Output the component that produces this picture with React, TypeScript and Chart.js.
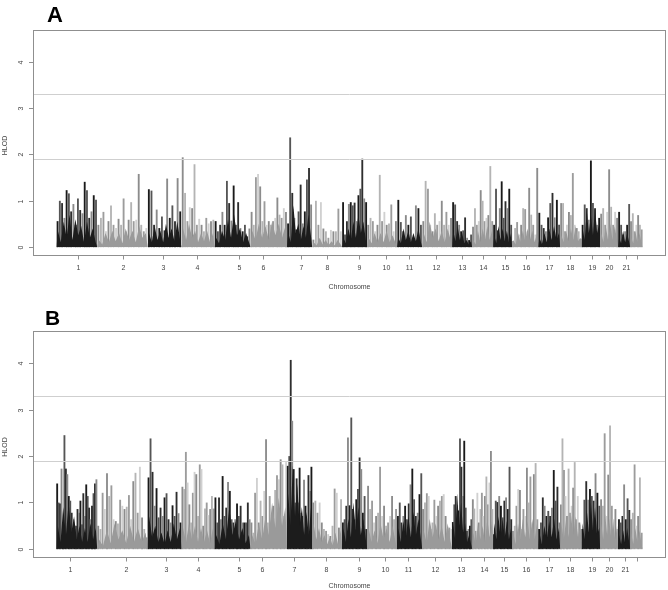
import React, { useEffect, useRef } from 'react';
import { Chart, registerables } from 'chart.js';

Chart.register(...registerables);

// ---------------- data ----------------
const chromosomes = ['1','2','3','4','5','6','7','8','9','10','11','12','13','14','15','16','17','18','19','20','21','22'];
// chromosome lengths (cM) on the genome-wide axis
const chromLengths = [243, 301, 203, 197, 215, 218, 150, 179, 149, 179, 150, 179, 119, 126, 113, 156, 131, 128, 111, 107, 72, 74];
// tick label positions (cM) for each panel
const tickPosA = [131, 400, 639, 842, 1092, 1232, 1459, 1618, 1809, 1965, 2108, 2266, 2421, 2550, 2679, 2801, 2944, 3068, 3199, 3299, 3402, 3468];
const tickPosB = [83, 414, 655, 848, 1092, 1226, 1419, 1610, 1809, 1961, 2102, 2263, 2418, 2554, 2674, 2803, 2944, 3064, 3199, 3299, 3398, 3466];
// R drops the overlapping last label (chromosome 22)
const xTickLabels = ['1','2','3','4','5','6','7','8','9','10','11','12','13','14','15','16','17','18','19','20','21',''];
const yTicks = [0, 1, 2, 3, 4];
const thresholds = [1.9, 3.3];

// Panel A: HLOD peaks per chromosome (in map order)
const spikesA = [
  [0.55,0.99,0.94,0.62,1.22,1.15,0.76,0.92,0.47,1.04,0.79,0.72,1.40,1.22,0.62,0.76,1.11,1.01],
  [0.47,0.62,0.75,0.33,0.55,0.89,0.47,0.40,0.60,0.47,1.04,0.33,0.58,0.96,0.55,0.58,1.57,0.47,0.33,0.40],
  [1.24,1.21,0.47,0.80,0.40,0.65,0.35,1.47,0.62,0.89,0.55,1.48,0.76],
  [1.93,1.16,0.55,0.85,0.83,1.78,0.47,0.60,0.47,0.33,0.62,0.50,0.55,0.58],
  [0.55,0.33,0.47,0.75,0.47,1.42,0.94,0.56,1.32,0.47,0.96,0.40,0.33,0.47,0.22,0.39],
  [0.75,0.47,1.50,1.57,1.30,0.55,0.98,0.47,0.55,0.47,0.55,0.62,1.06,0.69,0.62,0.83,0.75],
  [0.50,2.36,1.16,0.62,0.37,0.76,1.34,0.50,0.76,1.45,1.70,0.91],
  [0.15,0.99,0.47,0.96,0.39,0.33,0.19,0.36,0.33,0.33,0.82,0.33],
  [0.96,0.26,0.55,0.92,0.96,0.89,0.95,0.55,1.11,1.25,1.90,1.04,0.96],
  [0.47,0.62,0.55,0.33,0.47,1.55,0.55,0.75,0.47,0.50,0.91,0.33,0.55],
  [1.01,0.53,0.33,0.68,0.47,0.65,0.19,0.89,0.83,0.47],
  [0.55,1.42,1.25,0.47,0.33,0.72,0.47,0.55,0.99,0.47,0.75,0.47,0.62],
  [0.96,0.91,0.55,0.47,0.33,0.35,0.63,0.19,0.14,0.26],
  [0.43,0.83,0.47,0.55,1.22,0.99,0.55,0.62,0.68,1.74,0.55],
  [0.47,1.25,0.35,0.83,1.41,0.62,0.98,0.83,1.25,0.47],
  [0.12,0.40,0.53,0.26,0.47,0.83,0.81,0.33,1.27,0.69,0.47,0.26,1.70],
  [0.73,0.47,0.40,0.33,0.63,0.94,1.16,0.63,1.01,0.47],
  [0.94,0.94,0.33,0.47,0.75,0.68,1.59,0.47,0.40,0.33,0.17],
  [0.47,0.91,0.83,0.58,1.86,0.94,0.83,0.47,0.62],
  [0.71,0.83,0.47,0.75,1.67,0.86,0.47,0.75,0.62],
  [0.75,0.47,0.26,0.33,0.47,0.92],
  [0.55,0.72,0.33,0.47,0.68,0.47,0.37],
];
// Panel A: dense low-level HLOD mass per chromosome
const baseA = [
  [0.35,0.10,0.55,0.20,0.70,0.15,0.60,0.25,0.45,0.10,0.55,0.20,0.40,0.10],
  [0.15,0.05,0.30,0.10,0.35,0.12,0.30,0.08,0.40,0.15,0.35,0.10,0.45,0.20,0.30],
  [0.30,0.10,0.45,0.15,0.35,0.10,0.50,0.20,0.40,0.12,0.55,0.15],
  [0.40,0.15,0.50,0.20,0.35,0.10,0.30,0.12,0.35,0.10,0.30],
  [0.20,0.08,0.35,0.15,0.60,0.20,0.70,0.25,0.40,0.10,0.30,0.10],
  [0.35,0.15,0.50,0.20,0.45,0.15,0.55,0.25,0.50,0.20,0.45],
  [0.30,0.10,0.90,0.30,0.50,0.15,0.45,0.20,0.70,0.25],
  [0.10,0.03,0.20,0.05,0.15,0.04,0.12,0.03,0.15,0.05],
  [0.20,0.08,0.40,0.15,0.55,0.20,0.70,0.30,0.55,0.15],
  [0.20,0.08,0.30,0.10,0.30,0.10,0.35,0.10,0.25,0.08],
  [0.20,0.08,0.40,0.15,0.35,0.10,0.30,0.12,0.40,0.10],
  [0.30,0.10,0.55,0.20,0.40,0.12,0.35,0.10,0.40,0.15],
  [0.35,0.12,0.45,0.15,0.30,0.08,0.15,0.05,0.12],
  [0.15,0.05,0.35,0.10,0.40,0.15,0.45,0.15,0.35],
  [0.25,0.08,0.45,0.15,0.40,0.12,0.35,0.10,0.30],
  [0.15,0.05,0.30,0.10,0.35,0.12,0.40,0.15,0.35,0.10,0.30],
  [0.20,0.06,0.30,0.10,0.40,0.15,0.45,0.15,0.30],
  [0.25,0.10,0.35,0.12,0.40,0.15,0.45,0.12,0.20],
  [0.40,0.15,0.80,0.30,0.70,0.25,0.85,0.30,0.50],
  [0.30,0.10,0.45,0.15,0.50,0.15,0.45,0.15],
  [0.20,0.08,0.35,0.10,0.30,0.10],
  [0.20,0.08,0.35,0.10,0.30,0.08],
];

// Panel B: HLOD peaks per chromosome
const spikesB = [
  [1.40,0.99,0.97,1.72,0.42,2.44,1.72,1.60,1.13,1.03,0.77,0.63,0.42,0.49,0.85,0.77,1.03,0.52,1.19,0.70,1.38,1.13,0.88,0.63,0.92,1.19,1.40,1.49],
  [0.49,0.42,1.20,0.85,1.62,1.13,1.36,0.63,0.59,0.54,1.05,0.92,0.85,0.90,1.15,0.63,1.45,1.63,0.77,1.76,0.67,0.42,0.24],
  [1.53,2.37,1.65,0.92,1.30,0.67,0.88,0.70,1.10,1.19,0.63,0.56,0.93,0.70,1.22,0.76,0.56],
  [1.33,1.28,2.08,1.42,0.95,0.56,1.20,1.65,1.60,0.70,1.81,1.71,0.49,0.86,0.99,0.72,0.85,1.13,0.86],
  [1.10,0.56,1.10,0.63,1.56,0.70,0.88,1.43,1.24,0.63,0.56,0.63,0.97,0.70,0.92,0.56,0.56,0.56,0.99,0.63],
  [0.56,0.34,1.20,1.52,0.56,1.03,0.70,1.24,2.35,0.56,1.13,0.70,0.92,1.26,1.58,1.49,1.92,1.81,0.70,1.86],
  [1.78,1.99,4.06,2.75,1.71,0.99,1.51,0.99,1.74,0.77,0.70,1.48,0.92,0.42,1.58,1.24,1.76],
  [0.99,1.03,0.77,0.99,0.56,0.42,0.38,0.31,0.27,0.49,1.29,1.20,0.45,1.06],
  [0.56,0.63,0.92,2.39,0.93,2.82,0.85,0.63,1.06,1.28,1.96,1.71,0.77,1.13,0.42],
  [1.35,0.85,1.03,0.56,0.70,0.77,1.76,0.70,0.92,0.49,0.56,0.70,1.13,0.63,0.85],
  [0.70,0.99,0.56,0.70,0.92,0.63,0.97,1.38,1.72,1.06,0.70,0.77,1.17,1.62],
  [0.85,0.99,1.19,1.13,0.42,0.56,1.05,0.70,0.92,1.03,1.13,1.17,0.70,0.42,0.45,0.42],
  [0.57,0.95,1.13,0.93,0.82,2.37,1.76,1.13,2.32,0.88,0.38,0.42,0.49,0.63],
  [1.06,0.86,0.38,1.20,0.56,0.85,1.20,0.70,1.13,1.55,0.95,1.42,2.10,0.85],
  [0.31,1.03,1.00,1.13,0.92,0.67,1.03,1.10,0.85,1.76,0.63],
  [0.38,0.49,0.92,1.28,1.26,0.42,0.85,0.70,1.74,0.99,1.55,0.56,1.60,1.84,0.63],
  [0.42,0.56,1.10,0.92,0.70,0.81,0.70,0.88,1.69,1.03,1.33,0.56],
  [0.95,2.37,1.69,1.13,0.70,1.72,0.77,0.92,1.31,1.86,0.63,1.13,0.56,0.42],
  [0.42,1.05,1.45,1.05,1.28,1.13,1.03,1.62,1.20,0.92],
  [1.06,0.92,2.48,0.70,1.59,2.65,0.92,0.63,0.85,0.42],
  [0.63,0.56,0.70,1.38,0.63,1.08,0.83],
  [0.63,0.77,1.81,0.49,0.70,1.53,0.34],
];
// Panel B: dense low-level HLOD mass per chromosome
const baseB = [
  [0.50,0.15,0.90,0.30,1.00,0.35,0.70,0.20,0.50,0.15,0.45,0.15,0.55,0.20,0.45],
  [0.20,0.06,0.40,0.12,0.55,0.20,0.40,0.12,0.50,0.15,0.45,0.15,0.35],
  [0.70,0.25,0.50,0.15,0.35,0.10,0.40,0.15,0.55,0.20,0.45],
  [0.45,0.15,0.55,0.20,0.50,0.15,0.45,0.15,0.40,0.12,0.45],
  [0.30,0.10,0.55,0.20,0.90,0.30,0.60,0.20,0.45,0.12,0.30],
  [0.30,0.10,0.55,0.20,0.70,0.30,1.00,0.45,1.10,0.50,0.90],
  [1.20,0.50,1.80,0.70,1.40,0.50,0.90,0.30,0.80,0.30,0.90],
  [0.55,0.20,0.45,0.15,0.30,0.10,0.25,0.08,0.35,0.10,0.40],
  [0.45,0.15,0.65,0.25,1.00,0.40,0.90,0.30,0.65,0.20],
  [0.45,0.15,0.40,0.12,0.55,0.20,0.45,0.15,0.50,0.15],
  [0.45,0.15,0.60,0.25,0.70,0.25,0.80,0.30,0.65,0.20],
  [0.40,0.12,0.65,0.25,0.55,0.20,0.50,0.15,0.55,0.15],
  [0.55,0.20,1.20,0.50,1.00,0.35,0.55,0.15,0.30,0.10],
  [0.35,0.10,0.55,0.20,0.50,0.15,0.65,0.25,0.60],
  [0.55,0.20,0.70,0.25,0.65,0.25,0.60,0.20,0.45],
  [0.35,0.10,0.55,0.20,0.65,0.25,0.60,0.20,0.65,0.20,0.55],
  [0.35,0.10,0.50,0.20,0.60,0.25,0.65,0.20,0.45],
  [0.55,0.20,0.65,0.25,0.75,0.30,0.70,0.25,0.55],
  [0.55,0.20,0.85,0.35,1.00,0.40,0.90,0.30,0.45],
  [0.55,0.20,0.75,0.30,0.65,0.25,0.60,0.20,0.50],
  [0.30,0.10,0.40,0.12,0.45,0.15],
  [0.35,0.10,0.45,0.15,0.40,0.10],
];

// ---------------- styling ----------------
const DARK_PAL = ['#1a1a1a', '#555555', '#2e2e2e', '#8a8a8a'];
const LIGHT_PAL = ['#8c8c8c', '#b4b4b4', '#9c9c9c', '#d0d0d0'];
const DARK_BASE = '#1c1c1c';
const LIGHT_BASE = '#9a9a9a';
const FONT = '"Liberation Sans", Arial, Helvetica, sans-serif';

function buildDatasets(spikes: number[][], base: number[][]) {
  const starts: number[] = [];
  let acc = 0;
  for (const L of chromLengths) { starts.push(acc); acc += L; }
  const pts: { x: number; y: number }[] = [];
  const cols: string[] = [];
  spikes.forEach((vals, c) => {
    const L = chromLengths[c];
    const n = vals.length;
    const pal = c % 2 === 0 ? DARK_PAL : LIGHT_PAL;
    vals.forEach((v, i) => {
      pts.push({ x: starts[c] + ((i + 0.5) * L) / n, y: v });
      cols.push(pal[i % pal.length]);
    });
  });
  const baseSets = base.map((vals, c) => {
    const L = chromLengths[c];
    const n = vals.length;
    const d = [{ x: starts[c], y: 0 }];
    vals.forEach((v, i) => d.push({ x: starts[c] + ((i + 0.5) * L) / n, y: v }));
    d.push({ x: starts[c] + L, y: 0 });
    return {
      type: 'line' as const,
      data: d,
      fill: 'origin',
      backgroundColor: c % 2 === 0 ? DARK_BASE : LIGHT_BASE,
      borderWidth: 0,
      pointRadius: 0,
      tension: 0,
      order: 0,
    };
  });
  const spikeSet = {
    type: 'bar' as const,
    data: pts,
    backgroundColor: cols,
    borderWidth: 0,
    barThickness: 1.2,
    grouped: false,
    order: 1,
  };
  return [...baseSets, spikeSet];
}

const rAxesPlugin = {
  id: 'rAxes',
  afterDatasetsDraw(chart: any) {
    const { ctx, chartArea } = chart;
    const y = chart.scales.y;
    ctx.save();
    ctx.strokeStyle = '#cfcfcf';
    ctx.lineWidth = 1;
    for (const t of thresholds) {
      const py = Math.round(y.getPixelForValue(t)) + 0.5;
      ctx.beginPath();
      ctx.moveTo(chartArea.left, py);
      ctx.lineTo(chartArea.right, py);
      ctx.stroke();
    }
    ctx.restore();
  },
  afterDraw(chart: any, _args: any, opts: any) {
    const { ctx, chartArea } = chart;
    const xs = chart.scales.x;
    const ys = chart.scales.y;
    const { left, right, top, bottom } = chartArea;
    ctx.save();
    // box
    ctx.strokeStyle = '#8f8f8f';
    ctx.lineWidth = 1;
    ctx.strokeRect(left + 0.5, top + 0.5, right - left - 1, bottom - top);
    // y ticks
    ctx.fillStyle = '#444';
    ctx.font = `7px ${FONT}`;
    ctx.textAlign = 'center';
    ctx.textBaseline = 'middle';
    for (const v of yTicks) {
      const py = Math.round(ys.getPixelForValue(v)) + 0.5;
      ctx.beginPath();
      ctx.moveTo(left - 4, py);
      ctx.lineTo(left, py);
      ctx.stroke();
      ctx.save();
      ctx.translate(left - 12, py);
      ctx.rotate(-Math.PI / 2);
      ctx.fillText(String(v), 0, 0);
      ctx.restore();
    }
    // y title
    ctx.save();
    ctx.translate(5, (top + bottom) / 2 + 3);
    ctx.rotate(-Math.PI / 2);
    ctx.fillText('HLOD', 0, 0);
    ctx.restore();
    // x ticks
    const tp: number[] = opts.ticks;
    tp.forEach((pos, i) => {
      const px = Math.round(xs.getPixelForValue(pos)) + 0.5;
      ctx.beginPath();
      ctx.moveTo(px, bottom + 0.5);
      ctx.lineTo(px, bottom + 4.5);
      ctx.stroke();
      if (xTickLabels[i]) ctx.fillText(xTickLabels[i], px, bottom + 13.5);
    });
    ctx.fillText('Chromosome', (left + right) / 2, bottom + opts.xTitleOffset);
    // panel letter
    ctx.fillStyle = '#000';
    ctx.font = `bold ${opts.letterSize}px ${FONT}`;
    ctx.textAlign = 'left';
    ctx.textBaseline = 'alphabetic';
    ctx.fillText(opts.letter, opts.letterX, opts.letterY);
    ctx.restore();
  },
};

type PanelProps = {
  spikes: number[][];
  base: number[][];
  ticks: number[];
  letter: string;
  padTop: number;
  padBottom: number;
  letterX: number;
  letterY: number;
  letterSize: number;
  xTitleOffset: number;
};

function Panel(p: PanelProps) {
  const ref = useRef<HTMLCanvasElement | null>(null);
  useEffect(() => {
    if (!ref.current) return;
    const chart = new Chart(ref.current, {
      type: 'bar',
      data: { datasets: buildDatasets(p.spikes, p.base) as any },
      options: {
        animation: false,
        responsive: false,
        devicePixelRatio: 1,
        layout: { padding: { left: 33, right: 2, top: p.padTop, bottom: p.padBottom } },
        scales: {
          x: { type: 'linear', min: -140, max: 3640, display: false, offset: false },
          y: { type: 'linear', min: -0.175, max: 4.69, display: false },
        },
        plugins: {
          legend: { display: false },
          tooltip: { enabled: false },
          rAxes: {
            ticks: p.ticks,
            letter: p.letter,
            letterX: p.letterX,
            letterY: p.letterY,
            letterSize: p.letterSize,
            xTitleOffset: p.xTitleOffset,
          },
        } as any,
      },
      plugins: [rAxesPlugin],
    });
    return () => chart.destroy();
  }, []);
  return <canvas ref={ref} width={668} height={295} style={{ display: 'block', width: 668, height: 295 }} />;
}

export default function App() {
  return (
    <div style={{ position: 'absolute', left: 0, top: 0, width: 668, height: 590, background: '#fff' }}>
      <Panel spikes={spikesA} base={baseA} ticks={tickPosA} letter="A" padTop={30} padBottom={40}
        letterX={47} letterY={22} letterSize={22} xTitleOffset={32} />
      <Panel spikes={spikesB} base={baseB} ticks={tickPosB} letter="B" padTop={36} padBottom={33}
        letterX={45} letterY={30} letterSize={21} xTitleOffset={29} />
    </div>
  );
}
